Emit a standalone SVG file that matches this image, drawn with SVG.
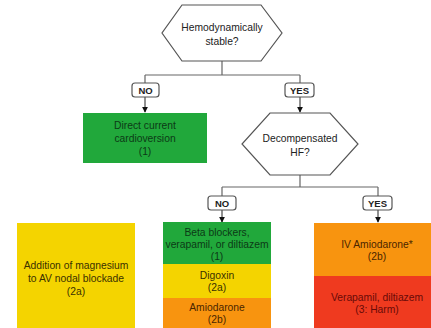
<svg xmlns="http://www.w3.org/2000/svg" width="431" height="328" viewBox="0 0 431 328">
  <defs>
    <marker id="arrow" viewBox="0 0 8 8" refX="7" refY="4" markerWidth="6" markerHeight="6" orient="auto" markerUnits="userSpaceOnUse">
      <path d="M0,0 L8,4 L0,8 Z" fill="#111"/>
    </marker>
  </defs>
  <style>
    text { font-family: "Liberation Sans", Arial, sans-serif; font-size: 10.3px; text-anchor: middle; }
    .hex { fill: #fff; stroke: #555; stroke-width: 1.2; }
    .line { fill: none; stroke: #666; stroke-width: 1.2; }
    .arr { fill: none; stroke: #222; stroke-width: 1; marker-end: url(#arrow); }
    .tag rect { fill: #fff; stroke: #555; stroke-width: 1.2; }
    .tag text { font-weight: bold; font-size: 9.5px; fill: #222; }
    .q { fill: #222; }
    .green { fill: #21a83b; }
    .yellow { fill: #f4d400; }
    .orange { fill: #f8940f; }
    .red { fill: #ef3a1f; }
    .tg { fill: #0c3a16; }
    .ty { fill: #3a3000; }
    .to { fill: #4a2500; }
    .tr { fill: #690a08; }
  </style>

  <!-- connectors -->
  <g id="connectors">
    <path class="line" d="M222,61 V75 M145,75 H300 M145,75 V83 M300,75 V83"/>
    <path class="arr" d="M145,97 V112"/>
    <path class="arr" d="M300,97 V112"/>
    <path class="line" d="M300,175 V187 M222,187 H378 M222,187 V196 M378,187 V196"/>
    <path class="arr" d="M222,210 V222"/>
    <path class="arr" d="M378,210 V222"/>
    <g class="tag" id="tag-no-1"><rect x="132" y="83" width="27" height="14" rx="3"/><text x="145.5" y="93.5">NO</text></g>
    <g class="tag" id="tag-yes-1"><rect x="285" y="83" width="29" height="14" rx="3"/><text x="299.5" y="93.5">YES</text></g>
    <g class="tag" id="tag-no-2"><rect x="208" y="196" width="28" height="14" rx="3"/><text x="222" y="206.5">NO</text></g>
    <g class="tag" id="tag-yes-2"><rect x="363" y="196" width="29" height="14" rx="3"/><text x="377.5" y="206.5">YES</text></g>
  </g>

  <!-- decision: stable -->
  <g id="q-stable">
    <polygon class="hex" points="182,5 261,5 282,33 261,61 182,61 162,33"/>
    <text class="q" x="222" y="31">Hemodynamically</text>
    <text class="q" x="222" y="45">stable?</text>
  </g>

  <!-- decision: decompensated HF -->
  <g id="q-hf">
    <polygon class="hex" points="270,113 330,113 358,144 330,175 270,175 242,144"/>
    <text class="q" x="300" y="142">Decompensated</text>
    <text class="q" x="300" y="156">HF?</text>
  </g>

  <!-- direct current cardioversion -->
  <g id="n-cardioversion">
    <rect class="green" x="83" y="113" width="124" height="50"/>
    <text class="tg" x="145" y="129">Direct current</text>
    <text class="tg" x="145" y="142">cardioversion</text>
    <text class="tg" x="145" y="155">(1)</text>
  </g>

  <!-- magnesium -->
  <g id="n-magnesium">
    <rect class="yellow" x="17" y="223" width="118" height="105"/>
    <text class="ty" x="76" y="269">Addition of magnesium</text>
    <text class="ty" x="76" y="282">to AV nodal blockade</text>
    <text class="ty" x="76" y="295">(2a)</text>
  </g>

  <!-- stable HF: no -->
  <g id="n-beta">
    <rect class="green" x="163" y="222" width="108" height="42"/>
    <text class="tg" x="217" y="236">Beta blockers,</text>
    <text class="tg" x="217" y="248">verapamil, or diltiazem</text>
    <text class="tg" x="217" y="260">(1)</text>
  </g>
  <g id="n-digoxin">
    <rect class="yellow" x="163" y="264" width="108" height="34"/>
    <text class="ty" x="217" y="279">Digoxin</text>
    <text class="ty" x="217" y="291">(2a)</text>
  </g>
  <g id="n-amiodarone">
    <rect class="orange" x="163" y="298" width="108" height="30"/>
    <text class="to" x="217" y="311">Amiodarone</text>
    <text class="to" x="217" y="323">(2b)</text>
  </g>

  <!-- decompensated HF: yes -->
  <g id="n-iv-amiodarone">
    <rect class="orange" x="314" y="223" width="126" height="53"/>
    <text class="to" x="377" y="248">IV Amiodarone*</text>
    <text class="to" x="377" y="260">(2b)</text>
  </g>
  <g id="n-verapamil">
    <rect class="red" x="314" y="276" width="126" height="52"/>
    <text class="tr" x="377" y="301">Verapamil, diltiazem</text>
    <text class="tr" x="377" y="313">(3: Harm)</text>
  </g>
</svg>
